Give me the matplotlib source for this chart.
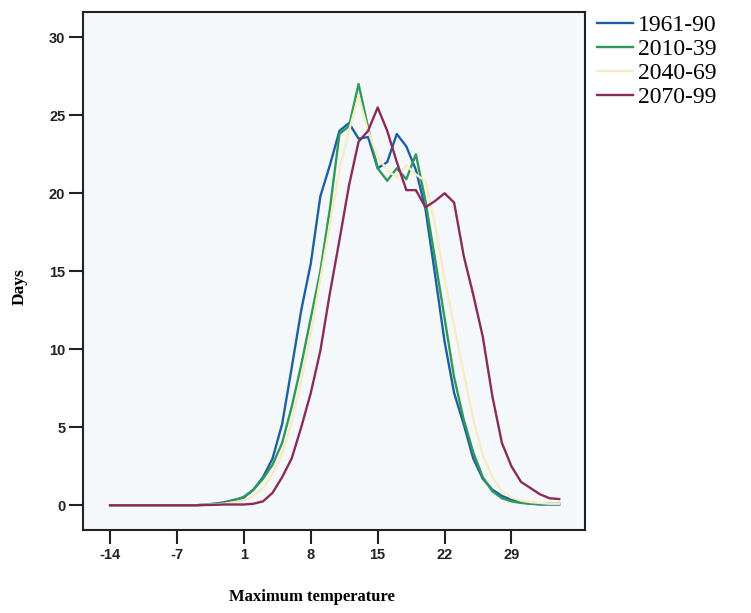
import numpy as np
import matplotlib.pyplot as plt

# Days per maximum-temperature class (one value per class)
tick_labels = ['-14', '-7', '1', '8', '15', '22', '29']
series_names = ['1961-90', '2010-39', '2040-69', '2070-99']

blue = [0, 0, 0, 0, 0, 0, 0, 0, 0, 0,
        0.05, 0.1, 0.2, 0.35, 0.5, 1.0, 1.8, 3.0, 5.2, 8.8,
        12.5, 15.5, 19.8, 21.8, 24.0, 24.5, 23.5, 23.6, 21.6, 22.0,
        23.8, 23.0, 21.5, 19.0, 14.8, 10.5, 7.2, 5.2, 3.0, 1.7,
        1.0, 0.6, 0.35, 0.2, 0.1, 0.05, 0.05, 0.05]
green = [0, 0, 0, 0, 0, 0, 0, 0, 0, 0,
         0.05, 0.1, 0.15, 0.3, 0.55, 1.0, 1.7, 2.6, 4.0, 6.3,
         9.0, 12.0, 15.0, 19.0, 23.8, 24.3, 27.0, 24.2, 21.6, 20.8,
         21.6, 20.9, 22.5, 19.5, 15.8, 12.0, 8.2, 5.5, 3.4, 1.8,
         0.9, 0.45, 0.25, 0.15, 0.1, 0.1, 0.1, 0.1]
yellow = [0, 0, 0, 0, 0, 0, 0, 0, 0, 0,
          0.05, 0.05, 0.1, 0.2, 0.3, 0.6, 1.1, 2.0, 3.3, 5.3,
          8.0, 11.0, 14.5, 18.0, 21.5, 24.0, 26.2, 24.0, 22.3, 21.5,
          21.0, 21.8, 21.2, 20.8, 18.0, 14.5, 11.5, 8.5, 5.5, 3.2,
          1.8, 0.9, 0.5, 0.3, 0.2, 0.15, 0.1, 0.1]
red = [0, 0, 0, 0, 0, 0, 0, 0, 0, 0,
       0.02, 0.03, 0.05, 0.05, 0.05, 0.1, 0.25, 0.8, 1.8, 3.0,
       5.0, 7.2, 9.9, 13.6, 17.0, 20.5, 23.3, 24.0, 25.5, 24.0,
       22.0, 20.2, 20.2, 19.1, 19.5, 20.0, 19.4, 16.0, 13.5, 10.8,
       7.0, 4.0, 2.5, 1.5, 1.1, 0.7, 0.45, 0.4]

colors = ['#1d5fa6', '#2f9a58', '#f6ecc4', '#8a2c5a']

fig = plt.figure(figsize=(7.51, 6.13), dpi=100)
ax = fig.add_axes([0.111, 0.135, 0.668, 0.846])
ax.set_facecolor('#f4f8fb')

x = np.arange(len(blue))
for vals, c, name in zip([blue, green, yellow, red], colors, series_names):
    ax.plot(x, vals, color=c, lw=1.7, label=name)

ax.set_xlim(-2.8, 49.7)
ax.set_ylim(-1.6, 31.64)
ax.set_xticks(np.arange(0, 43, 7))
ax.set_xticklabels(tick_labels)
ax.set_yticks([0, 5, 10, 15, 20, 25, 30])

for s in ax.spines.values():
    s.set_linewidth(1.5)
    s.set_color('#222222')
ax.tick_params(direction='out', length=10, width=1.5, pad=3, labelsize=10.5, colors='#222222')
for lab in ax.get_xticklabels() + ax.get_yticklabels():
    lab.set_fontweight('bold')
    lab.set_family('Liberation Sans')

ax.set_xlabel('Maximum temperature', family='Liberation Serif', fontweight='bold', fontsize=12)
ax.xaxis.set_label_coords(0.456, -0.114)
ax.set_ylabel('Days', family='Liberation Serif', fontweight='bold', fontsize=12.5)
ax.yaxis.set_label_coords(-0.11, 0.47)

fig.legend(loc='upper left', bbox_to_anchor=(0.782, 0.991), frameon=False,
           prop={'family': 'Liberation Serif', 'size': 17}, handlelength=1.55,
           handletextpad=0.2, labelspacing=0.1, borderaxespad=0)

fig.savefig('out.png', dpi=100)
